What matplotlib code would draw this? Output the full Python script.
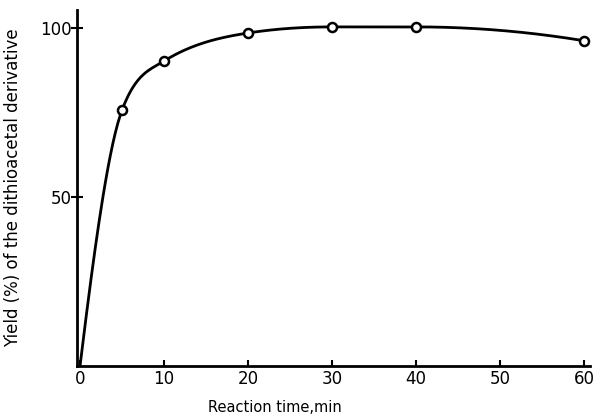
import numpy as np
import matplotlib
matplotlib.use("Agg")
import matplotlib.pyplot as plt

# data
time_min = [0, 5, 10, 20, 30, 40, 60]
yield_pct = [0, 75.7, 90.2, 98.5, 100.3, 100.3, 96.2]
x_ticks = [0, 10, 20, 30, 40, 50, 60]
y_ticks = [50, 100]


def smooth_curve(x, y, xs):
    # cubic hermite through the points, only for drawing the line
    x = np.asarray(x, float)
    y = np.asarray(y, float)
    h = np.diff(x)
    d = np.diff(y) / h
    m = np.zeros_like(y)
    for k in range(1, len(x) - 1):
        if d[k - 1] * d[k] > 0:
            m[k] = np.sign(d[k]) * np.sqrt(d[k - 1] * d[k])
    m[0] = 1.35 * d[0]
    m[-1] = 2 * d[-1] - m[-2]
    out = np.empty_like(xs)
    for i, t in enumerate(xs):
        k = min(np.searchsorted(x, t, side="right") - 1, len(x) - 2)
        s = (t - x[k]) / h[k]
        h00 = 2 * s**3 - 3 * s**2 + 1
        h10 = s**3 - 2 * s**2 + s
        h01 = -2 * s**3 + 3 * s**2
        h11 = s**3 - s**2
        out[i] = h00 * y[k] + h10 * h[k] * m[k] + h01 * y[k + 1] + h11 * h[k] * m[k + 1]
    return out


fig = plt.figure(figsize=(6.03, 4.19), dpi=100)
ax = fig.add_axes([77 / 603, 1 - 366 / 419, (590 - 77) / 603, (366 - 10) / 419])

xs = np.linspace(0, 60, 400)
ax.plot(xs, smooth_curve(time_min, yield_pct, xs), color="black", lw=2)
ax.plot(time_min[1:], yield_pct[1:], "o", ms=6.5, mfc="white", mec="black", mew=1.8)

ax.set_xlim(-0.36, 60.7)
ax.set_ylim(0, 105.3)
for s in ["top", "right"]:
    ax.spines[s].set_visible(False)
for s in ["left", "bottom"]:
    ax.spines[s].set_linewidth(2)

ax.set_xticks(x_ticks)
ax.set_yticks(y_ticks)
ax.tick_params(axis="x", direction="in", length=4, width=1.5, labelsize=12, pad=3)
ax.tick_params(axis="y", direction="inout", length=8, width=1.5, labelsize=12, pad=0)

ax.set_xlabel("Reaction time,min", fontsize=10.5)
ax.xaxis.set_label_coords((275 - 77) / 513, -0.095)
ax.set_ylabel("Yield (%) of the dithioacetal derivative", fontsize=12)
ax.yaxis.set_label_coords((22 - 77) / 513, 0.5)

fig.savefig("out.png", dpi=100)
